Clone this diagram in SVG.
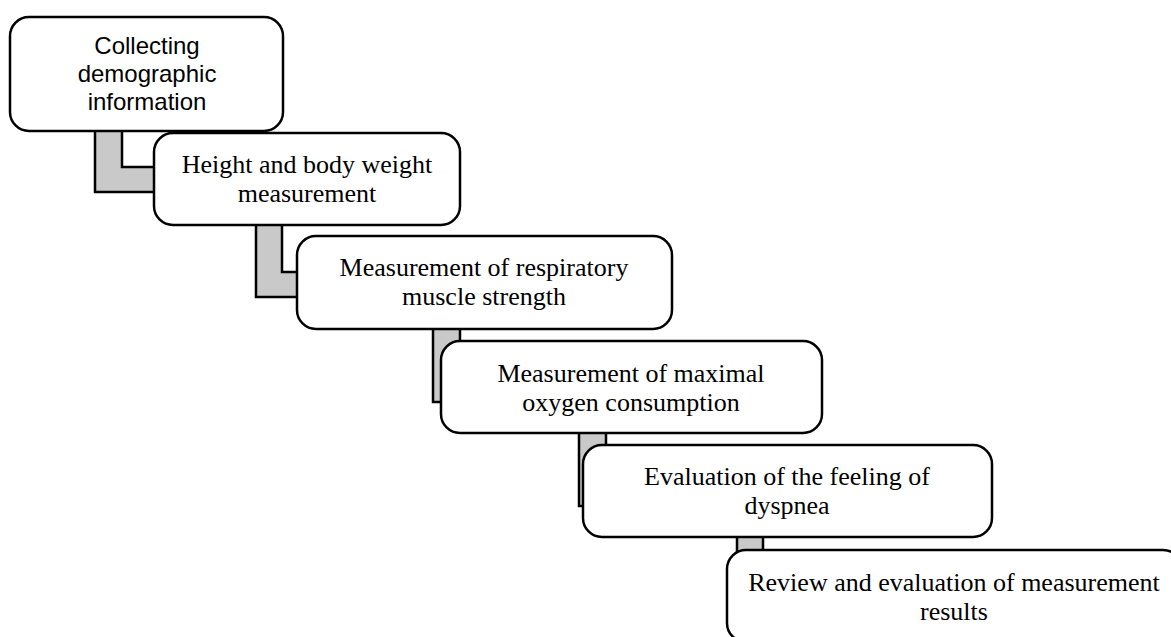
<svg xmlns="http://www.w3.org/2000/svg" width="1171" height="637" viewBox="0 0 1171 637">
<style>
.box{fill:#ffffff;stroke:#000000;stroke-width:2.5}
.conn{fill:#c9c9c9;stroke:#000000;stroke-width:2.5;stroke-linejoin:miter}
.serif{font-family:"Liberation Serif","Times New Roman",serif;font-size:26px;fill:#000000;text-anchor:middle}
.sans{font-family:"Liberation Sans",Arial,sans-serif;font-size:24px;fill:#000000;text-anchor:middle}
</style>
<rect width="1171" height="637" fill="#ffffff"/>
<g id="connectors">
<polygon class="conn" points="95,130 95,192 155,192 155,167 122,167 122,130"/>
<polygon class="conn" points="256,224 256,297 299,297 299,272 282,272 282,224"/>
<polygon class="conn" points="433,328 433,402 443,402 443,377 460,377 460,328"/>
<polygon class="conn" points="579,432 579,506 585,506 585,481 606,481 606,432"/>
<polygon class="conn" points="737,536 737,610 750,610 750,585 763,585 763,536"/>
</g>
<g id="node1">
<rect class="box" x="10" y="17" width="273" height="114" rx="19"/>
<text class="sans" x="147" y="54">Collecting</text>
<text class="sans" x="147" y="82">demographic</text>
<text class="sans" x="147" y="110">information</text>
</g>
<g id="node2">
<rect class="box" x="154" y="133" width="306" height="92" rx="19"/>
<text class="serif" x="307" y="173">Height and body weight</text>
<text class="serif" x="307" y="202">measurement</text>
</g>
<g id="node3">
<rect class="box" x="297" y="236" width="375" height="93" rx="19"/>
<text class="serif" x="484" y="276">Measurement of respiratory</text>
<text class="serif" x="484" y="305">muscle strength</text>
</g>
<g id="node4">
<rect class="box" x="441" y="341" width="381" height="92" rx="19"/>
<text class="serif" x="631" y="382">Measurement of maximal</text>
<text class="serif" x="631" y="411">oxygen consumption</text>
</g>
<g id="node5">
<rect class="box" x="583" y="445" width="409" height="92" rx="19"/>
<text class="serif" x="787" y="485">Evaluation of the feeling of</text>
<text class="serif" x="787" y="514">dyspnea</text>
</g>
<g id="node6">
<rect class="box" x="727" y="550" width="455" height="92" rx="19"/>
<text class="serif" x="954" y="591">Review and evaluation of measurement</text>
<text class="serif" x="954" y="620">results</text>
</g>
</svg>
